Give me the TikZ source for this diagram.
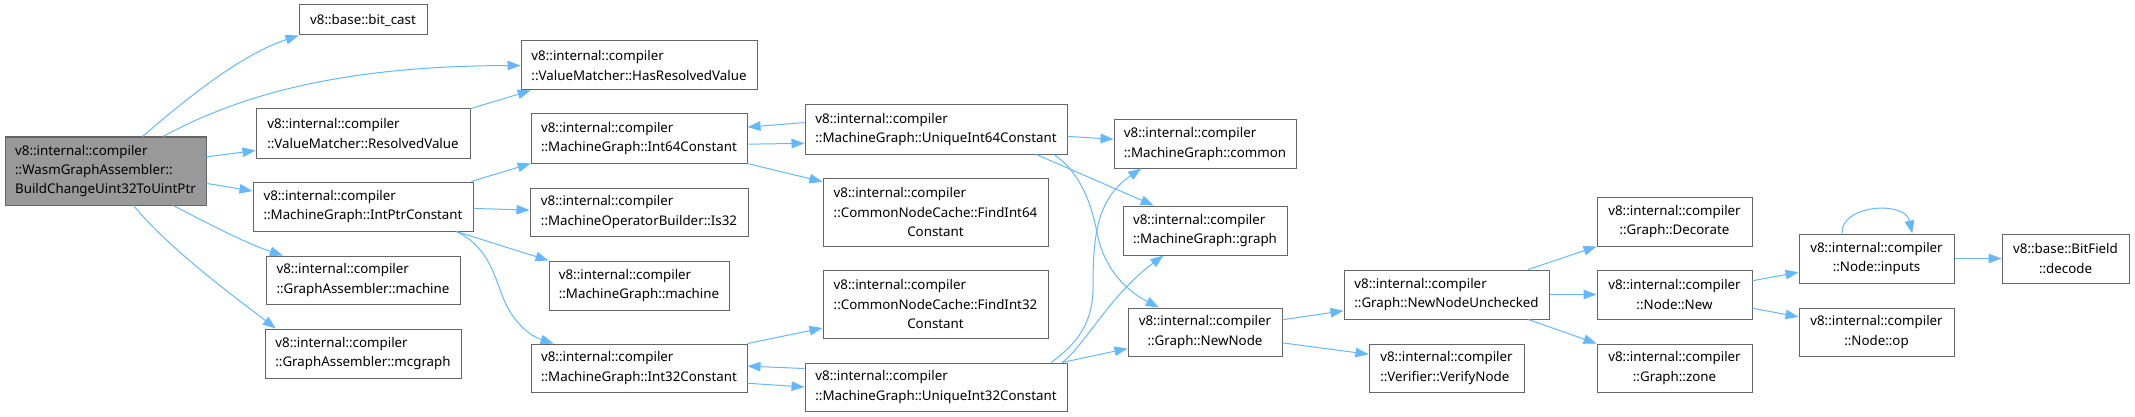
\documentclass[tikz,border=0pt]{standalone}
\usepackage{fontspec}
\setmainfont{Noto Sans}
\usetikzlibrary{arrows.meta}
\definecolor{edgeblue}{HTML}{63B8FF}
\definecolor{boxgray}{HTML}{666666}
\definecolor{mainfill}{HTML}{999999}
\begin{document}
\begin{tikzpicture}[x=1pt, y=-1pt,
  fn/.style={draw=boxgray, line width=1pt, fill=white, inner sep=0pt, align=left, font=\fontsize{13.33}{19.2}\selectfont},
  sz/.style 2 args={minimum width=#1pt, minimum height=#2pt},
  call/.style={draw=edgeblue, line width=1pt, -{Triangle[length=13pt, width=9.5pt]}}]
\useasboundingbox (0,0) rectangle (2135,417);
\node[fn, sz={201}{68}, fill=mainfill] (main) at (105.5,171) {v8::internal::compiler\\::WasmGraphAssembler::\\BuildChangeUint32ToUintPtr};
\node[fn, sz={128}{30}] (bitcast) at (363,20) {v8::base::bit\_cast};
\node[fn, sz={236}{49}] (hasres) at (639,65.5) {v8::internal::compiler\\::ValueMatcher::HasResolvedValue};
\node[fn, sz={214}{49}] (resval) at (363,133.5) {v8::internal::compiler\\::ValueMatcher::ResolvedValue};
\node[fn, sz={220}{49}] (intptr) at (363,206.5) {v8::internal::compiler\\::MachineGraph::IntPtrConstant};
\node[fn, sz={194}{48}] (gamachine) at (363,280) {v8::internal::compiler\\::GraphAssembler::machine};
\node[fn, sz={196}{49}] (gamcgraph) at (363,353.5) {v8::internal::compiler\\::GraphAssembler::mcgraph};
\node[fn, sz={216}{49}] (int64) at (639,138.5) {v8::internal::compiler\\::MachineGraph::Int64Constant};
\node[fn, sz={218}{48}] (is32) at (639,212) {v8::internal::compiler\\::MachineOperatorBuilder::Is32};
\node[fn, sz={180}{49}] (mgmachine) at (639,285.5) {v8::internal::compiler\\::MachineGraph::machine};
\node[fn, sz={216}{48}] (int32) at (639,368) {v8::internal::compiler\\::MachineGraph::Int32Constant};
\node[fn, sz={262}{49}] (uint64) at (936,129.5) {v8::internal::compiler\\::MachineGraph::UniqueInt64Constant};
\node[fn, sz={225}{68}] (find64) at (935.5,212) {v8::internal::compiler\\::CommonNodeCache::FindInt64\\\hfil Constant};
\node[fn, sz={225}{68}] (find32) at (935.5,304) {v8::internal::compiler\\::CommonNodeCache::FindInt32\\\hfil Constant};
\node[fn, sz={262}{48}] (uint32) at (936,387) {v8::internal::compiler\\::MachineGraph::UniqueInt32Constant};
\node[fn, sz={182}{48}] (common) at (1205,144) {v8::internal::compiler\\::MachineGraph::common};
\node[fn, sz={164}{49}] (graph) at (1205,230.5) {v8::internal::compiler\\::MachineGraph::graph};
\node[fn, sz={154}{48}, align=center] (newnode) at (1205,332) {v8::internal::compiler\\::Graph::NewNode};
\node[fn, sz={205}{49}] (newunchk) at (1446.5,294.5) {v8::internal::compiler\\::Graph::NewNodeUnchecked};
\node[fn, sz={155}{48}] (verify) at (1446.5,368) {v8::internal::compiler\\::Verifier::VerifyNode};
\node[fn, sz={155}{49}, align=center] (decorate) at (1674.5,221.5) {v8::internal::compiler\\::Graph::Decorate};
\node[fn, sz={155}{49}, align=center] (nodenew) at (1674.5,294.5) {v8::internal::compiler\\::Node::New};
\node[fn, sz={155}{48}, align=center] (zone) at (1674.5,368) {v8::internal::compiler\\::Graph::zone};
\node[fn, sz={155}{49}, align=center] (inputs) at (1876.5,258.5) {v8::internal::compiler\\::Node::inputs};
\node[fn, sz={155}{48}, align=center] (nodeop) at (1876.5,332) {v8::internal::compiler\\::Node::op};
\node[fn, sz={127}{49}, align=center] (decode) at (2065.5,258.5) {v8::base::BitField\\::decode};
\draw[call] (main.43) .. controls (185,100) and (240,55) .. (bitcast.south west);
\draw[call] (main.31) .. controls (240,95) and (340,66) .. (hasres.west);
\draw[call] (main.8.5) -- (resval.189);
\draw[call] (main.-7) -- (intptr.172.5);
\draw[call] (main.-27) .. controls (205,222) and (245,243) .. (gamachine.163);
\draw[call] (main.-51) .. controls (170,250) and (240,301) .. (gamcgraph.164);
\draw[call] (resval.13.5) -- (hasres.193);
\draw[call] (intptr.13.5) -- (int64.193.5);
\draw[call] (intptr.-1) -- (is32.179);
\draw[call] (intptr.-15.4) -- (mgmachine.north west);
\draw[call] (intptr.-15) .. controls (485,245) and (493,270) .. (502,295) .. controls (512,322) and (530,336) .. (int32.164);
\draw[call] (int64.-3) -- (uint64.186);
\draw[call] (uint64.177.6) -- (int64.6.6);
\draw[call] (int64.-13.5) -- (find64.165);
\draw[call] (int32.north east) -- (find32.192);
\draw[call] (int32.-8) -- (uint32.180.5);
\draw[call] (uint32.172) -- (int32.1);
\draw[call] (uint64.-3) -- (common.177);
\draw[call] (uint64.-14.6) -- (graph.154);
\draw[call] (uint64.-12.3) .. controls (1075,168) and (1090,195) .. (1097,233) .. controls (1104,268) and (1125,290) .. (newnode.152);
\draw[call] (uint32.12.6) .. controls (1070,348) and (1092,330) .. (1093,290) .. controls (1093,240) and (1095,200) .. (common.201);
\draw[call] (uint32.11.6) .. controls (1085,345) and (1110,295) .. (graph.211.5);
\draw[call] (uint32.11.1) -- (newnode.192);
\draw[call] (newnode.9) -- (newunchk.189);
\draw[call] (newnode.-8) -- (verify.170.6);
\draw[call] (newunchk.17.5) -- (decorate.south west);
\draw[call] (newunchk.east) -- (nodenew.west);
\draw[call] (newunchk.-17.5) -- (zone.north west);
\draw[call] (nodenew.10) -- (inputs.190);
\draw[call] (nodenew.-10.6) -- (nodeop.169);
\draw[call] (inputs.144.6) .. controls (1840,205) and (1905,200) .. (inputs.35.4);
\draw[call] (inputs.east) -- (decode.west);
\end{tikzpicture}
\end{document}
